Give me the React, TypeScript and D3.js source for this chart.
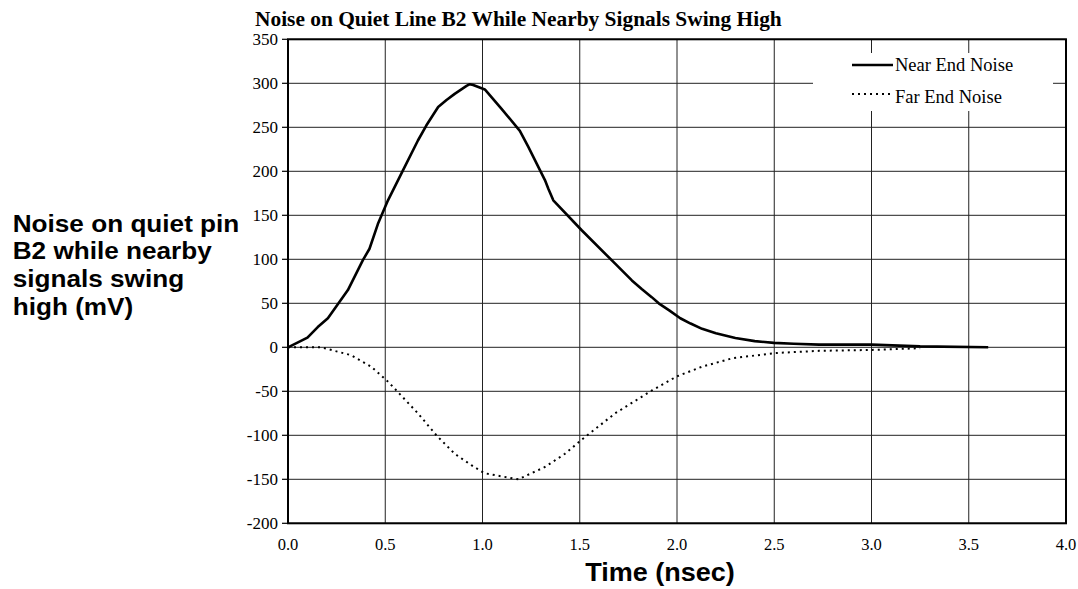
import React from "react";
import * as d3 from "d3";

const chartTitle = "Noise on Quiet Line B2 While Nearby Signals Swing High";
const yLabelLines = ["Noise on quiet pin", "B2 while nearby", "signals swing", "high (mV)"];
const xLabel = "Time (nsec)";
const seriesNames = ["Near End Noise", "Far End Noise"];

const xTicks = [0, 0.5, 1.0, 1.5, 2.0, 2.5, 3.0, 3.5, 4.0];
const yTicks = [-200, -150, -100, -50, 0, 50, 100, 150, 200, 250, 300, 350];

const nearT = [0, 0.10, 0.153, 0.205, 0.247, 0.308, 0.385, 0.419, 0.462, 0.514, 0.591, 0.668, 0.711, 0.772, 0.815, 0.857, 0.918, 0.935, 0.952, 1.012, 1.098, 1.192, 1.235, 1.321, 1.339, 1.364, 1.51, 1.682, 1.768, 1.82, 1.87, 1.906, 1.96, 2.017, 2.07, 2.129, 2.2, 2.3, 2.4, 2.498, 2.6, 2.73, 3.0, 3.25, 3.6];
const nearV = [0, 11, 23, 33, 46, 65, 99, 112, 140, 167, 201, 235, 252, 273, 281, 288, 297, 299, 298, 293, 271, 246, 228, 190, 180, 167, 133, 95, 76, 66, 57, 50, 42, 33, 27, 21, 16, 10.5, 7, 5, 4, 3, 3, 1, 0];

const farT = [0, 0.17, 0.325, 0.428, 0.514, 0.557, 0.668, 0.763, 0.857, 0.943, 1.009, 1.081, 1.184, 1.321, 1.424, 1.51, 1.682, 1.871, 2.0, 2.129, 2.284, 2.505, 2.73, 3.0, 3.25];
const farV = [0, 0, -9, -22, -39, -49, -75, -100, -121, -134, -143, -146, -150, -136, -121, -105, -75, -49, -33, -22, -12.5, -6.5, -4, -3, -1];

const W = 1078;
const H = 589;
const SERIF = "'Liberation Serif', 'Times New Roman', serif";
const SANS = "'Liberation Sans', Arial, Helvetica, sans-serif";

export default function App() {
  const x = d3.scaleLinear().domain([0, 4]).range([288, 1066]);
  const y = d3.scaleLinear().domain([-200, 350]).range([523.3, 39.3]);

  const near = nearT.map((t, i) => [t, nearV[i]] as [number, number]);
  const far = farT.map((t, i) => [t, farV[i]] as [number, number]);
  const line = d3
    .line<[number, number]>()
    .x((d) => x(d[0]))
    .y((d) => y(d[1]))
    .curve(d3.curveLinear);

  const [x0, x1] = x.range();
  const [yb, yt] = y.range();

  return (
    <svg
      width={W}
      height={H}
      style={{ position: "absolute", left: 0, top: 0, background: "#fff" }}
    >
      <rect x={0} y={0} width={W} height={H} fill="#fff" />
      <text x={255} y={26} fontFamily={SERIF} fontWeight="bold" fontSize={21.4} fill="#000">
        {chartTitle}
      </text>

      {/* grid */}
      {yTicks.map((v) => (
        <line key={"gy" + v} x1={x0} x2={x1} y1={y(v)} y2={y(v)} stroke="#222" strokeWidth={1} />
      ))}
      {xTicks.map((v) => (
        <line key={"gx" + v} x1={x(v)} x2={x(v)} y1={yt} y2={yb} stroke="#222" strokeWidth={1} />
      ))}

      {/* y ticks & labels */}
      {yTicks.map((v) => (
        <g key={"ty" + v}>
          <line x1={x0 - 6} x2={x0} y1={y(v)} y2={y(v)} stroke="#000" strokeWidth={1.2} />
          <text
            x={278}
            y={y(v)}
            dy="0.35em"
            textAnchor="end"
            fontFamily={SERIF}
            fontSize={17}
            fill="#000"
          >
            {v}
          </text>
        </g>
      ))}
      {xTicks.map((v) => (
        <text
          key={"tx" + v}
          x={x(v)}
          y={550}
          textAnchor="middle"
          fontFamily={SERIF}
          fontSize={16.5}
          fill="#000"
        >
          {v.toFixed(1)}
        </text>
      ))}

      {/* frame */}
      <rect x={x0} y={yt} width={x1 - x0} height={yb - yt} fill="none" stroke="#000" strokeWidth={2} />

      {/* series */}
      <path d={line(far) || ""} fill="none" stroke="#000" strokeWidth={2} strokeDasharray="2,4" />
      <path d={line(near) || ""} fill="none" stroke="#000" strokeWidth={2.6} strokeLinejoin="round" />

      {/* legend */}
      <rect x={813} y={53} width={240} height={58} fill="#fff" />
      <line x1={852} x2={893} y1={65} y2={65} stroke="#000" strokeWidth={2.6} />
      <text x={895} y={70.5} fontFamily={SERIF} fontSize={18.5} fill="#000">
        {seriesNames[0]}
      </text>
      <line x1={852} x2={893} y1={94} y2={94} stroke="#000" strokeWidth={2} strokeDasharray="2,4" />
      <text x={895} y={102.5} fontFamily={SERIF} fontSize={18.5} fill="#000">
        {seriesNames[1]}
      </text>

      {/* axis titles */}
      <g fontFamily={SANS} fontWeight="bold" fill="#000">
        {yLabelLines.map((s, i) => (
          <text
            key={s}
            transform={`translate(12.7, ${231.7 + i * 27.7}) scale(1.09, 1)`}
            fontSize={24}
          >
            {s}
          </text>
        ))}
        <text transform={`translate(660, 581.3) scale(1.06, 1)`} textAnchor="middle" fontSize={25.5}>
          {xLabel}
        </text>
      </g>
    </svg>
  );
}
